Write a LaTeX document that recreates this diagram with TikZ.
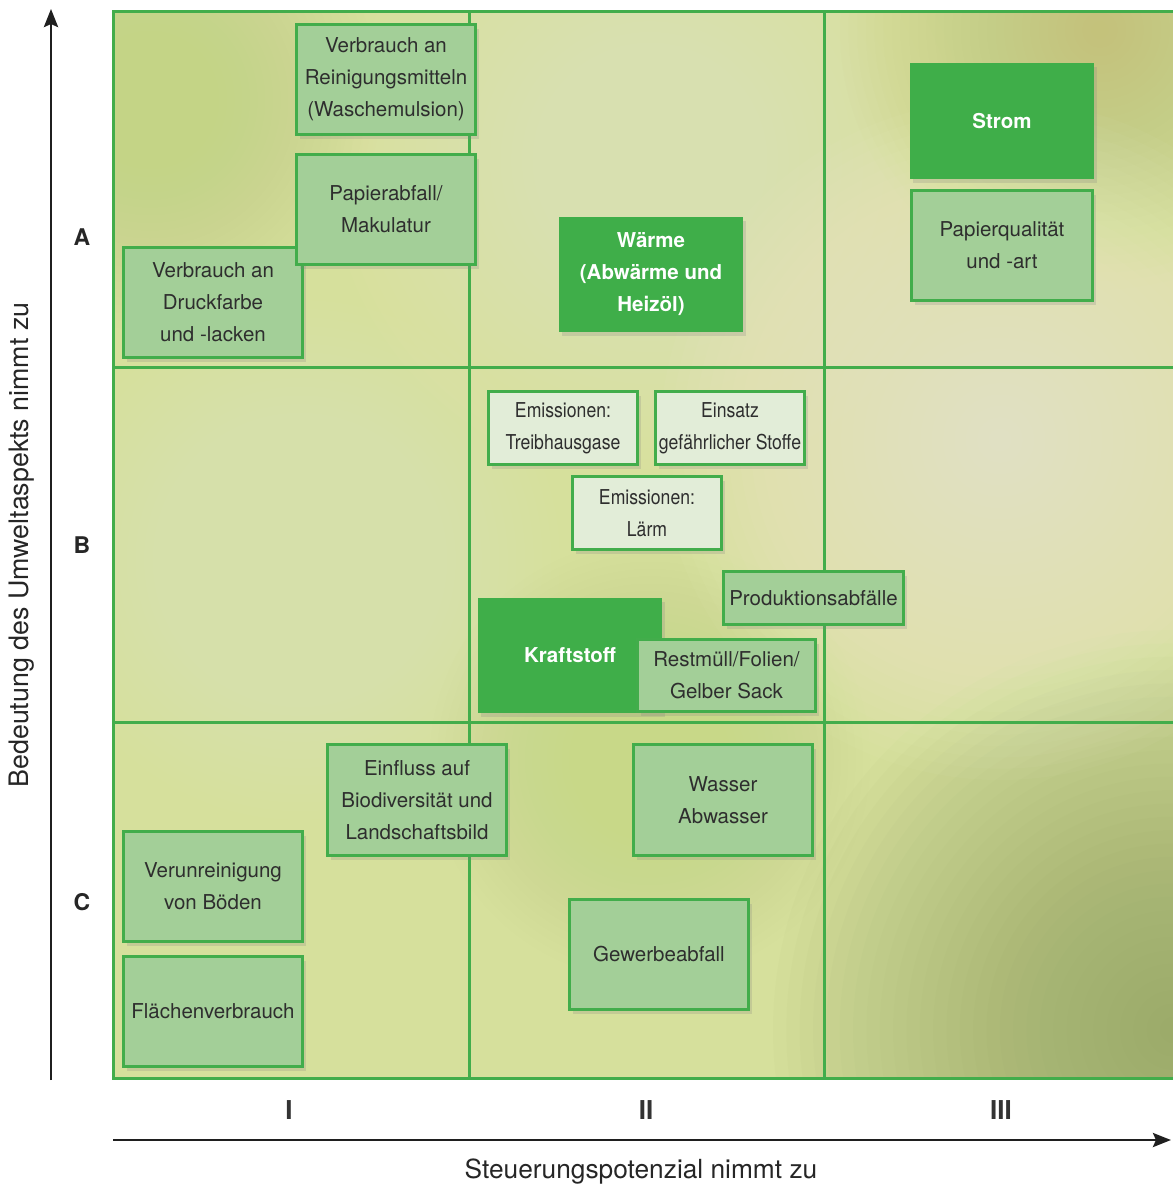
\documentclass[tikz,border=0pt]{standalone}
\usepackage{fontspec}
\setmainfont{TeX Gyre Heros}
\newfontfamily\condfont[FakeStretch=0.86]{TeX Gyre Heros}
\usetikzlibrary{arrows.meta,shadows}
\definecolor{gline}{HTML}{42AD4B}
\definecolor{gdark}{HTML}{3FAE49}
\definecolor{glight}{HTML}{A3CF98}
\definecolor{gpale}{HTML}{E2EDD8}
\definecolor{txt}{HTML}{2E2E2E}
\definecolor{bgbase}{HTML}{D6E09C}
\definecolor{bgA}{HTML}{C4D486}
\definecolor{bgB}{HTML}{F4F5CC}
\definecolor{bgC}{HTML}{EEF2C6}
\definecolor{bgD}{HTML}{F2F0A6}
\definecolor{bgE}{HTML}{C8D888}
\definecolor{bgF}{HTML}{C4C27A}
\definecolor{bgG}{HTML}{8A9B5C}
\definecolor{bgH}{HTML}{FCFCE6}
\newcommand\glow[4]{%
  \foreach \k in {1,...,30}{%
    \pgfmathsetmacro\rr{#3*\k/30}%
    \fill[#4, opacity=0.034] (#1,#2) circle (\rr pt);}}
\tikzset{
  shad/.style={drop shadow={shadow xshift=3pt,shadow yshift=-4pt,opacity=0.22}},
  box/.style={draw=gline, line width=2.8pt, fill=glight, text=txt, align=center,
    font=\fontsize{20.5}{32}\selectfont, inner sep=0pt, shad},
  palebox/.style={box, fill=gpale, font=\condfont\fontsize{20.5}{32}\selectfont},
  darkbox/.style={fill=gdark, text=white, align=center,
    font=\fontsize{20.5}{32}\selectfont\bfseries, inner sep=0pt, shad},
  grid/.style={draw=gline, line width=3pt},
  axis/.style={line width=2.9pt, black!88, -{Stealth[length=18pt,width=14pt,inset=3pt]}},
  rowlab/.style={font=\fontsize{23}{26}\selectfont\bfseries, text=black!85},
  collab/.style={font=\fontsize{26}{28}\selectfont\bfseries, text=black!80},
}
\begin{document}
\begin{tikzpicture}[x=1pt,y=-1pt]
\useasboundingbox (0,0) rectangle (1173,1187);
% background
\begin{scope}
  \clip (113,11) rectangle (1173,1078);
  \fill[bgbase] (113,11) rectangle (1173,1078);
  \glow{150}{100}{230}{bgA}
  \glow{650}{160}{320}{bgB}
  \glow{300}{560}{260}{bgC}
  \glow{150}{940}{170}{bgD}
  \glow{650}{760}{220}{bgE}
  \glow{1100}{30}{260}{bgF}
  \glow{1173}{1030}{400}{bgG}
  \glow{1000}{440}{340}{bgH}
\end{scope}
% grid
\draw[grid] (113,11) rectangle (1180,1078);
\draw[grid] (469,11) -- (469,1078);
\draw[grid] (824,11) -- (824,1078);
\draw[grid] (113,367) -- (1180,367);
\draw[grid] (113,722) -- (1180,722);
% axes
\coordinate (ya) at (51,1080);
\coordinate (yb) at (51,9);
\coordinate (xa) at (113,1140);
\coordinate (xb) at (1171,1140);
\draw[axis] (ya) -- (yb);
\draw[axis] (xa) -- (xb);
\node[rotate=90, font=\fontsize{26.8}{28}\selectfont, text=black!85] (ylab) at (22,545) {Bedeutung des Umweltaspekts nimmt zu};
\node[font=\fontsize{26.3}{28}\selectfont, text=black!85] (xlab) at (641,1172) {Steuerungspotenzial nimmt zu};
\node[rowlab] (rA) at (82,237) {A};
\node[rowlab] (rB) at (82,545) {B};
\node[rowlab] (rC) at (82,902) {C};
\node[collab] (c1) at (289,1110) {I};
\node[collab] (c2) at (646,1110) {II};
\node[collab] (c3) at (1001,1110) {III};
% boxes
\node[box, minimum width=179pt, minimum height=110pt] (rein) at (386,79.5) {Verbrauch an\\Reinigungsmitteln\\(Waschemulsion)};
\node[box, minimum width=179pt, minimum height=110pt] (druck) at (213,302.5) {Verbrauch an\\Druckfarbe\\und -lacken};
\node[box, minimum width=179pt, minimum height=110pt] (papier) at (386,209.5) {Papierabfall/\\Makulatur};
\node[darkbox, minimum width=184pt, minimum height=115pt] (waerme) at (651,274.5) {Wärme\\(Abwärme und\\Heizöl)};
\node[darkbox, minimum width=184pt, minimum height=116pt] (strom) at (1002,121) {Strom};
\node[box, minimum width=181pt, minimum height=110pt] (pq) at (1002,245.5) {Papierqualität\\und -art};
\node[palebox, minimum width=149pt, minimum height=73pt] (treib) at (563,428) {Emissionen:\\Treibhausgase};
\node[palebox, minimum width=149pt, minimum height=73pt] (gefahr) at (730,428) {Einsatz\\gefährlicher Stoffe};
\node[palebox, minimum width=149pt, minimum height=73pt] (laerm) at (647,513) {Emissionen:\\Lärm};
\node[box, minimum width=180pt, minimum height=53pt] (prod) at (813.5,598) {Produktionsabfälle};
\node[darkbox, minimum width=184pt, minimum height=115pt] (kraft) at (570,655.5) {Kraftstoff};
\node[box, minimum width=178pt, minimum height=72pt] (rest) at (726.5,675.5) {Restmüll/Folien/\\Gelber Sack};
\node[box, minimum width=179pt, minimum height=111pt] (bio) at (417,800) {Einfluss auf\\Biodiversität und\\Landschaftsbild};
\node[box, minimum width=179pt, minimum height=111pt] (wasser) at (723,800) {Wasser\\Abwasser};
\node[box, minimum width=179pt, minimum height=110pt] (boden) at (213,886.5) {Verunreinigung\\von Böden};
\node[box, minimum width=179pt, minimum height=110pt] (flaeche) at (213,1011.5) {Flächenverbrauch};
\node[box, minimum width=179pt, minimum height=110pt] (gewerbe) at (659,954.5) {Gewerbeabfall};
\end{tikzpicture}
\end{document}
